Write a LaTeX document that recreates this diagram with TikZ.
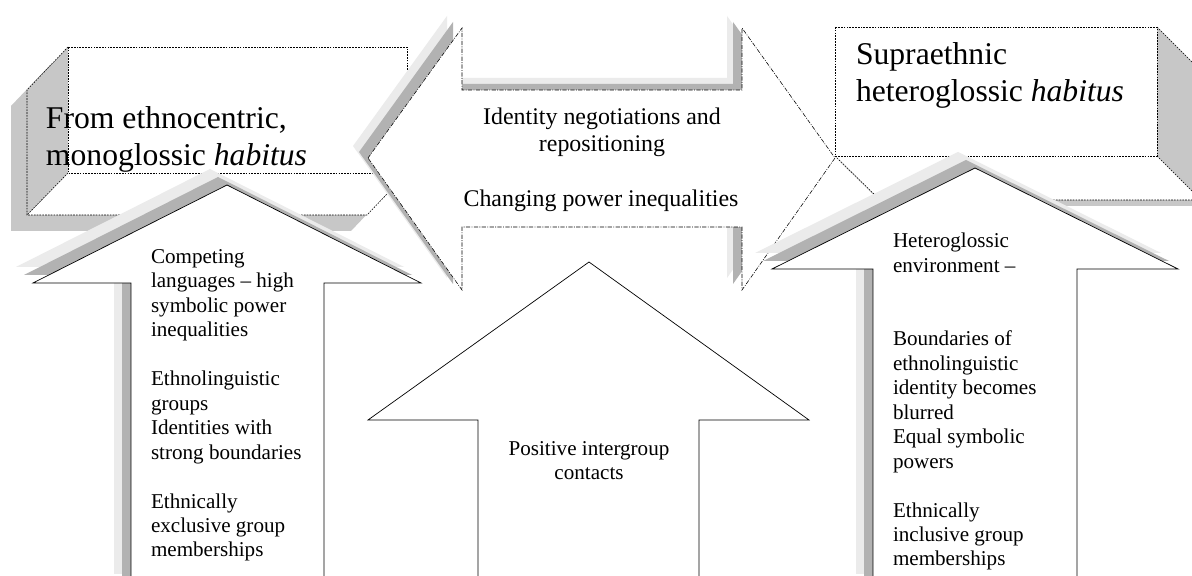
\documentclass[tikz,border=0pt]{standalone}
\usepackage{fontspec}
\setmainfont{Liberation Serif}

\begin{document}
\begin{tikzpicture}
  [x=0.025cm, y=-0.025cm,
   every node/.style={inner sep=0pt, outer sep=0pt},
   boxline/.style={dash pattern=on 1.2pt off 0.8pt, line width=0.4pt},
   dashdotline/.style={dash pattern=on 3pt off 1pt on 0.6pt off 1pt, line width=0.4pt},
   arrowline/.style={draw=black, line width=0.5pt, fill=white},
   face/.style={fill=black!22},
   shadowdark/.style={fill=black!30},
   shadowlight/.style={fill=black!8},
   title/.style={anchor=base west, align=left, font=\fontsize{22.5}{27}\selectfont},
   midtext/.style={anchor=base, align=center, font=\fontsize{17}{19.3}\selectfont},
   arrowtext/.style={font=\fontsize{15}{17.4}\selectfont}]
  \useasboundingbox (0,0) rectangle (1192,576);
  \clip (0,0) rectangle (1192,576);
  \fill[white] (0,0) rectangle (1192,576);

  % the two boxes
  \def\leftbox{(68,47) -- (407,47) -- (407,173) -- (367,215) -- (27,215) -- (27,90) -- cycle}
  \def\rightbox{(835,27) -- (1157,27) -- (1201,71) -- (1201,200) -- (880,200) -- (835,156) -- cycle}
  \fill[face, shift={(-16,16)}] \leftbox;
  \fill[white] \leftbox;
  \fill[face] (68,47) -- (27,90) -- (27,215) -- (68,173) -- cycle;
  \draw[boxline] (68,47) rectangle (407,173);
  \draw[boxline] (68,47) -- (27,90) -- (27,215) -- (367,215) -- (407,173);
  \draw[boxline] (68,173) -- (27,215);

  \fill[face, shift={(5,6)}] \rightbox;
  \fill[white] \rightbox;
  \fill[face] (1157,27) -- (1201,71) -- (1201,200) -- (1157,156) -- cycle;
  \draw[boxline] (835,27) rectangle (1157,156);
  \draw[boxline] (1157,27) -- (1201,71) -- (1201,200) -- (880,200) -- (835,156);
  \draw[boxline] (1157,156) -- (1201,200);

  % double arrow in the middle
  \def\midarrow{(368,158) -- (462,28) -- (462,90) -- (742,90) -- (742,28) -- (835,158) -- (742,290) -- (742,227) -- (462,227) -- (462,290) -- cycle}
  \fill[shadowlight, shift={(-15,-12)}] \midarrow;
  \fill[shadowdark, shift={(-9,-6)}] \midarrow;
  \draw[dashdotline, fill=white] \midarrow;

  % up arrows
  \def\leftup{(33,283) -- (227,185) -- (421,283) -- (324,283) -- (324,590) -- (131,590) -- (131,283) -- cycle}
  \def\midup{(368,420) -- (589,262) -- (809,420) -- (699,420) -- (699,590) -- (478,590) -- (478,420) -- cycle}
  \def\rightup{(772,269) -- (975,168) -- (1178,269) -- (1077,269) -- (1077,590) -- (873,590) -- (873,269) -- cycle}
  \fill[shadowlight, shift={(-17,-16)}] \leftup;
  \fill[shadowdark, shift={(-9,-8)}] \leftup;
  \draw[arrowline] \leftup;
  \draw[arrowline] \midup;
  \fill[shadowlight, shift={(-17,-16)}] \rightup;
  \fill[shadowdark, shift={(-9,-8)}] \rightup;
  \draw[arrowline] \rightup;

  % texts (base = baseline of the last line)
  \node[title] (fromtitle) at (46,166) {From ethnocentric,\\monoglossic \emph{habitus}};
  \node[title] (totitle) at (856,102) {Supraethnic\\heteroglossic \emph{habitus}};
  \node[midtext] (negotiation) at (602,152) {Identity negotiations and\\repositioning};
  \node[midtext] (power) at (601,207) {Changing power inequalities};
  \node[arrowtext, anchor=base west, align=left] (leftlist) at (151,557)
    {Competing\\languages -- high\\symbolic power\\inequalities\\[17.4pt]Ethnolinguistic\\groups\\Identities with\\strong boundaries\\[17.4pt]Ethnically\\exclusive group\\memberships};
  \node[arrowtext, anchor=base, align=center] (contacts) at (589,480) {Positive intergroup\\contacts};
  \node[arrowtext, anchor=base west, align=left] (rightlist) at (893,566)
    {Heteroglossic\\environment --\\[34.8pt]Boundaries of\\ethnolinguistic\\identity becomes\\blurred\\Equal symbolic\\powers\\[17.4pt]Ethnically\\inclusive group\\memberships};
\end{tikzpicture}
\end{document}
